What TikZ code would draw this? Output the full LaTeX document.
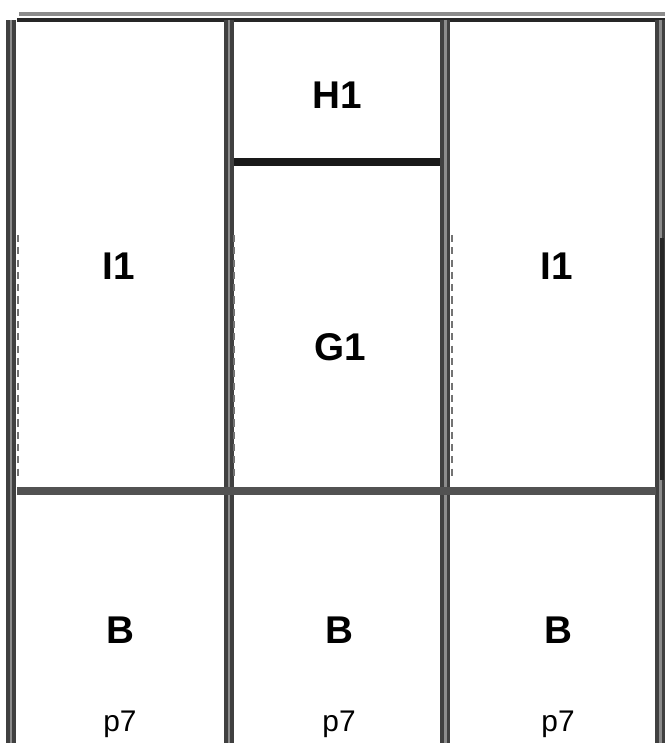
\documentclass[tikz,border=0pt]{standalone}
\usepackage{fontspec}
\setmainfont{Liberation Sans}

\tikzset{
  wall/.style={line width=2pt, draw=black!75, double=black!45, double distance=1.7pt},
  shelf/.style={line width=4.5pt, draw=black!68},
  seam/.style={draw=black!55, line width=1.1pt, dash pattern=on 4pt off 3pt},
  tag/.style={font=\fontsize{22}{26}\selectfont\bfseries},
  code/.style={font=\fontsize{17}{20}\selectfont}
}

\begin{document}
\begin{tikzpicture}[x=0.02cm, y=-0.02cm]
\useasboundingbox (0,0) rectangle (665,743);
\draw[black!45, line width=2pt] (19,14) -- (665,14);
\draw[black!85, line width=2.6pt] (17,20) -- (665,20);
\draw[wall] (11,20) -- (11,743);
\draw[wall] (229,20) -- (229,743);
\draw[wall] (445,20) -- (445,743);
\draw[wall] (660,20) -- (660,743);
\draw[black!85, line width=1.8pt] (662,238) -- (662,480);
\draw[seam] (18,235) -- (18,480);
\draw[seam] (234,235) -- (234,480);
\draw[seam] (452,235) -- (452,480);
\draw[black!90, line width=4pt] (234,162) -- (440,162);
\draw[shelf] (17,491) -- (656,491);
\node[tag] (i1l) at (119,266) {I1};
\node[tag] (h1) at (337,95) {H1};
\node[tag] (g1) at (340,347) {G1};
\node[tag] (i1r) at (557,266) {I1};
\foreach \x/\n in {120/l,339/m,558/r} {
  \node[tag] (b\n) at (\x,630) {B};
  \node[code] (p\n) at (\x,724) {p7};
}
\end{tikzpicture}
\end{document}
